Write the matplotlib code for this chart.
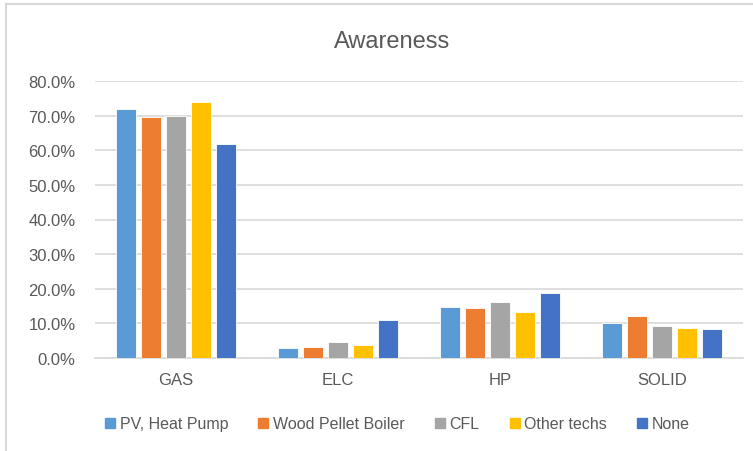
import numpy as np
import matplotlib
matplotlib.use('Agg')
import matplotlib.pyplot as plt
from matplotlib.lines import Line2D
from matplotlib.ticker import PercentFormatter

categories = ['GAS', 'ELC', 'HP', 'SOLID']
series_names = ['PV, Heat Pump', 'Wood Pellet Boiler', 'CFL', 'Other techs', 'None']
pv_heat_pump = [71.8, 2.8, 14.8, 10.0]
wood_pellet = [69.5, 3.1, 14.5, 12.2]
cfl = [69.8, 4.5, 16.1, 9.3]
other_techs = [73.8, 3.7, 13.4, 8.6]
none = [61.7, 10.9, 18.7, 8.5]
colors = ['#5B9BD5', '#ED7D31', '#A5A5A5', '#FFC000', '#4472C4']

TEXT = '#595959'
GRID = '#D9D9D9'

plt.rcParams['font.family'] = ['Liberation Sans', 'DejaVu Sans']

fig = plt.figure(figsize=(7.53, 4.52), dpi=100, facecolor='white')
ax = fig.add_axes([95 / 753, 1 - 359 / 452, 648 / 753, 277 / 452])

series = [pv_heat_pump, wood_pellet, cfl, other_techs, none]
x = np.arange(len(categories))
step = 0.154
width = 0.124
for i, (values, color) in enumerate(zip(series, colors)):
    ax.bar(x + (i - 2) * step, np.array(values) / 100, width=width,
           color=color, edgecolor='white', linewidth=0.6, zorder=3)

ax.set_xlim(-0.5, len(categories) - 0.5)
ax.set_ylim(0, 0.8)
ax.set_yticks(np.arange(0, 0.81, 0.1))
ax.yaxis.set_major_formatter(PercentFormatter(1.0, decimals=1))
ax.set_xticks(x, categories)
ax.grid(axis='y', color=GRID, linewidth=1.2, zorder=0)
for side in ['top', 'right', 'left']:
    ax.spines[side].set_visible(False)
ax.spines['bottom'].set_color(GRID)
ax.spines['bottom'].set_linewidth(1.2)
ax.tick_params(axis='both', length=0, colors=TEXT, labelsize=12)
ax.tick_params(axis='y', pad=14)
ax.tick_params(axis='x', pad=10)

fig.text(392 / 753, 1 - 42 / 452, 'Awareness', ha='center', va='center',
         fontsize=17, color=TEXT)

handles = [Line2D([], [], marker='s', linestyle='none', markersize=7,
                  markerfacecolor=c, markeredgecolor=c) for c in colors]
fig.legend(handles, series_names, loc='center', ncol=5,
           bbox_to_anchor=(396 / 753, 1 - 425 / 452), frameon=False,
           fontsize=11.5, labelcolor=TEXT, handletextpad=0.1,
           columnspacing=1.7, handlelength=1.0)

# chart frame
fig.add_artist(Line2D([5.5 / 753, 5.5 / 753], [0, 1 - 5 / 452],
                      transform=fig.transFigure, color=GRID, linewidth=1.5))
fig.add_artist(Line2D([5.5 / 753, 1], [1 - 5 / 452, 1 - 5 / 452],
                      transform=fig.transFigure, color=GRID, linewidth=1.5))

fig.savefig('out.png', dpi=100, facecolor='white')
